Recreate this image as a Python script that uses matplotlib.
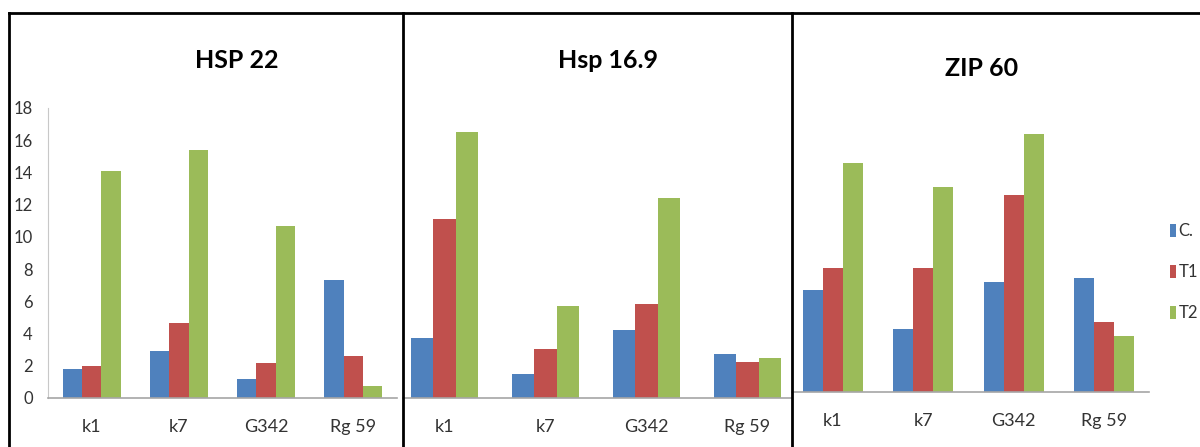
import numpy as np
import matplotlib
matplotlib.use("Agg")
import matplotlib.pyplot as plt
from matplotlib.patches import Patch
from matplotlib.lines import Line2D

plt.rcParams['font.family'] = ['Lato', 'DejaVu Sans']

genotypes = ['k1', 'k7', 'G342', 'Rg 59']
series = ['C.', 'T1', 'T2']
colors = ['#4F81BD', '#C0504D', '#9BBB59']

# HSP 22
hsp22_c = [1.8, 2.9, 1.15, 7.3]
hsp22_t1 = [2.0, 4.65, 2.2, 2.6]
hsp22_t2 = [14.1, 15.4, 10.7, 0.75]

# Hsp 16.9
hsp169_c = [3.77, 1.53, 4.27, 2.73]
hsp169_t1 = [11.1, 3.06, 5.86, 2.26]
hsp169_t2 = [16.5, 5.76, 12.44, 2.5]

# ZIP 60
zip60_c = [6.32, 3.88, 6.8, 7.04]
zip60_t1 = [7.7, 7.7, 12.2, 4.35]
zip60_t2 = [14.22, 12.7, 16.0, 3.48]

W, H = 1200, 447
fig = plt.figure(figsize=(W / 100, H / 100), dpi=100)


def px_axes(x0, x1, ybase, ytop):
    return fig.add_axes([x0 / W, 1 - ybase / H, (x1 - x0) / W, (ybase - ytop) / H])


def draw_panel(ax, c, t1, t2, ymax, show_y, spine_px, x0, x1):
    x = np.arange(len(genotypes))
    bw = 0.222
    for i, (vals, col) in enumerate(zip([c, t1, t2], colors)):
        ax.bar(x + (i - 1) * bw, vals, bw, color=col, linewidth=0)
    ax.set_xlim(-0.5, len(genotypes) - 0.5)
    ax.set_ylim(0, ymax)
    ax.set_xticks(x)
    ax.set_xticklabels(genotypes, fontsize=13, color='#333333')
    ax.tick_params(axis='x', length=0, pad=15)
    for s in ['top', 'right']:
        ax.spines[s].set_visible(False)
    ax.spines['bottom'].set_color('#a6a6a6')
    ax.spines['bottom'].set_linewidth(1.2)
    # bottom line only inside the panel border
    d0 = -0.5 + (spine_px[0] - x0) / (x1 - x0) * len(genotypes)
    d1 = -0.5 + (spine_px[1] - x0) / (x1 - x0) * len(genotypes)
    ax.spines['bottom'].set_bounds(d0, d1)
    if show_y:
        ax.set_yticks(np.arange(0, 19, 2))
        ax.tick_params(axis='y', length=0, pad=11, labelsize=12, labelcolor='#333333')
        ax.spines['left'].set_color('#c8c8c8')
    else:
        ax.set_yticks([])
        ax.spines['left'].set_visible(False)
    ax.patch.set_alpha(0)


ax1 = px_axes(48, 397, 398, 108)
draw_panel(ax1, hsp22_c, hsp22_t1, hsp22_t2, 18, True, (48, 397), 48, 397)

ax2 = px_axes(394, 798, 398.3, 108.3)
draw_panel(ax2, hsp169_c, hsp169_t1, hsp169_t2, 18, False, (403, 792), 394, 798)

ax3 = px_axes(787.4, 1149.4, 391.7, 101.7)
draw_panel(ax3, zip60_c, zip60_t1, zip60_t2, 18, False, (792, 1149.4), 787.4, 1149.4)

# titles
fig.text(237 / W, 1 - 60 / H, 'HSP 22', ha='center', va='center', fontsize=18, fontweight='bold')
fig.text(608 / W, 1 - 60 / H, 'Hsp 16.9', ha='center', va='center', fontsize=18, fontweight='bold')
fig.text(982 / W, 1 - 68 / H, 'ZIP 60', ha='center', va='center', fontsize=18, fontweight='bold')

# legend
handles = [Patch(facecolor=c, edgecolor='none') for c in colors]
fig.legend(handles, series, loc='center left', bbox_to_anchor=(1170 / W, 1 - 272 / H),
           frameon=False, fontsize=12, handlelength=0.35, handleheight=0.85,
           handletextpad=0.15, labelspacing=1.5, borderaxespad=0, borderpad=0,
           labelcolor='#333333')

# panel borders
lw = 2.0
fig.add_artist(Line2D([9 / W, 1.0], [1 - 13 / H, 1 - 13 / H], color='black', lw=lw))
for xb in [9, 403, 792]:
    fig.add_artist(Line2D([xb / W, xb / W], [0, 1 - 13 / H], color='black', lw=lw))

fig.savefig('out.png', dpi=100)
